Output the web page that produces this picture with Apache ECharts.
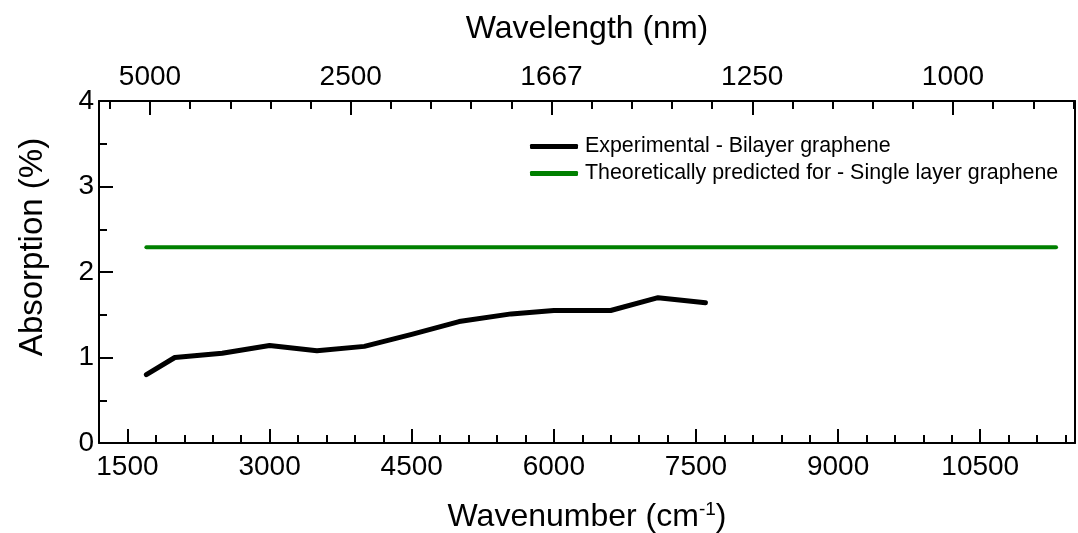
<!DOCTYPE html>
<html lang="en">
<head>
    <meta charset="UTF-8">
    <title>Absorption</title>
    <style>
        html, body { margin: 0; padding: 0; background: #fff; }
        #main { width: 1078px; height: 533px; }
    </style>
</head>
<body>
    <div id="main"></div>
    <script src="https://cdn.jsdelivr.net/npm/echarts@6/dist/echarts.min.js"></script>
    <script>
        // 实验数据 (双层石墨烯)
        var expWavenumber = [1700, 2000, 2500, 3000, 3500, 4000, 4500, 5000, 5550, 6000, 6600, 7100, 7600];
        var expAbsorption = [0.80, 1.00, 1.05, 1.14, 1.08, 1.13, 1.27, 1.42, 1.51, 1.55, 1.55, 1.70, 1.64];
        // 理论值 (单层石墨烯 ~2.3%)
        var theoWavenumber = [1700, 11300];
        var theoAbsorption = [2.29, 2.29];

        var topLabels = [5000, 2500, 1667, 1250, 1000];   // 10^7 / wavenumber
        var bottomTicks = [1500, 3000, 4500, 6000, 7500, 9000, 10500];
        var yTicks = [0, 1, 2, 3, 4];

        var font = 'Liberation Sans, Arial, sans-serif';

        // 像素布局
        var L = 99, R = 3, T = 101, B = 90;
        var plotW = 1078 - L - R;
        var xMin = 1200, xMax = 11500;
        var pxPerX = plotW / (xMax - xMin);
        // 顶部轴: 2000 -> x=150, 每2000单位约200.75px
        var topPx = 200.75 / 2000;
        var topMax = 2000 + (1078 - R - 150) / topPx;

        function pairs(xs, ys) {
            return xs.map(function (x, i) { return [x, ys[i]]; });
        }
        function makeGrid(left) {
            return { left: left, right: R, top: T, bottom: B, outerBoundsMode: 'none', containLabel: false };
        }

        var myChart = echarts.init(document.getElementById('main'));
        var hidden = { show: false };
        var noLine = { show: false, onZero: false };
        var option = {
            animation: false,
            textStyle: { fontFamily: font },
            grid: [
                makeGrid(L),                                        // 主图
                makeGrid(L + (bottomTicks[0] - xMin) * pxPerX),     // 底部主刻度
                makeGrid(150 - 400 * topPx),                        // 顶部次刻度
                makeGrid(150)                                       // 顶部主刻度
            ],
            legend: {
                orient: 'vertical',
                left: 525,
                top: 131,
                itemWidth: 48,
                itemHeight: 5,
                itemGap: 6,
                icon: 'roundRect',
                textStyle: { fontSize: 21.4, color: '#000', fontFamily: font, padding: [0, 0, 0, 2] },
                data: ['Experimental - Bilayer graphene', 'Theoretically predicted for - Single layer graphene']
            },
            graphic: [{
                type: 'text', x: 33, y: 247, rotation: Math.PI / 2,
                style: {
                    text: 'Absorption (%)', fontSize: 33, fontFamily: font, fill: '#000',
                    textAlign: 'center', textVerticalAlign: 'middle'
                }
            }],
            xAxis: [
                {   // 0: 底部次刻度
                    gridIndex: 0, type: 'value', position: 'bottom',
                    min: xMin, max: xMax, interval: 300,
                    axisLine: { show: true, onZero: false, lineStyle: { color: '#000', width: 2 } },
                    axisTick: { show: true, inside: true, length: 8, lineStyle: { color: '#000', width: 2 } },
                    axisLabel: hidden, splitLine: hidden,
                    name: '{m|Wavenumber (cm}{s|-1}{m|)}',
                    nameLocation: 'middle', nameGap: 57,
                    nameTextStyle: {
                        rich: {
                            m: { fontSize: 32, color: '#000', fontFamily: font, lineHeight: 34 },
                            s: { fontSize: 19, color: '#000', fontFamily: font, verticalAlign: 'top', lineHeight: 34, padding: [0, 0, 16, 0] }
                        }
                    }
                },
                {   // 1: 顶部边框 + 标题
                    gridIndex: 0, type: 'value', position: 'top',
                    min: xMin, max: xMax,
                    axisLine: { show: true, onZero: false, lineStyle: { color: '#000', width: 2 } },
                    axisTick: hidden, axisLabel: hidden, splitLine: hidden,
                    name: 'Wavelength (nm)', nameLocation: 'middle', nameGap: 56,
                    nameTextStyle: { fontSize: 32, color: '#000', fontFamily: font }
                },
                {   // 2: 底部主刻度与标签
                    gridIndex: 1, type: 'value', position: 'bottom',
                    min: bottomTicks[0], max: xMax, interval: 1500,
                    axisLine: noLine,
                    axisTick: { show: true, inside: true, length: 14, lineStyle: { color: '#000', width: 2 } },
                    axisLabel: {
                        show: true, margin: 10, fontSize: 28, color: '#000', fontFamily: font,
                        formatter: function (v) { return bottomTicks.indexOf(Math.round(v)) >= 0 ? Math.round(v) : ''; }
                    },
                    splitLine: hidden
                },
                {   // 3: 顶部次刻度
                    gridIndex: 2, type: 'value', position: 'top',
                    min: 1600, max: topMax, interval: 400,
                    axisLine: noLine,
                    axisTick: { show: true, inside: true, length: 8, lineStyle: { color: '#000', width: 2 } },
                    axisLabel: hidden, splitLine: hidden
                },
                {   // 4: 顶部主刻度与波长标签
                    gridIndex: 3, type: 'value', position: 'top',
                    min: 2000, max: topMax, interval: 2000,
                    axisLine: noLine,
                    axisTick: { show: true, inside: true, length: 14, lineStyle: { color: '#000', width: 2 } },
                    axisLabel: {
                        show: true, margin: 10, fontSize: 28, color: '#000', fontFamily: font,
                        formatter: function (v) {
                            var k = Math.round(v / 2000) - 1;
                            return Math.abs(v / 2000 - Math.round(v / 2000)) < 1e-6 && k < topLabels.length ? String(topLabels[k]) : '';
                        }
                    },
                    splitLine: hidden
                }
            ],
            yAxis: [
                {   // 0: 左侧次刻度 + 标签
                    gridIndex: 0, type: 'value', position: 'left',
                    min: 0, max: 4, interval: 0.5,
                    axisLine: { show: true, onZero: false, lineStyle: { color: '#000', width: 2 } },
                    axisTick: { show: true, inside: true, length: 8, lineStyle: { color: '#000', width: 2 } },
                    axisLabel: {
                        show: true, margin: 5, fontSize: 28, color: '#000', fontFamily: font,
                        formatter: function (v) { return yTicks.indexOf(v) >= 0 ? v : ''; }
                    },
                    splitLine: hidden
                },
                {   // 1: 左侧主刻度
                    gridIndex: 0, type: 'value', position: 'left',
                    min: 0, max: 4, interval: 1,
                    axisLine: noLine,
                    axisTick: { show: true, inside: true, length: 14, lineStyle: { color: '#000', width: 2 } },
                    axisLabel: hidden, splitLine: hidden
                },
                {   // 2: 右侧边框
                    gridIndex: 0, type: 'value', position: 'right',
                    min: 0, max: 4,
                    axisLine: { show: true, onZero: false, lineStyle: { color: '#000', width: 2 } },
                    axisTick: hidden, axisLabel: hidden, splitLine: hidden
                },
                { gridIndex: 1, type: 'value', min: 0, max: 4, show: false },
                { gridIndex: 2, type: 'value', min: 0, max: 4, show: false },
                { gridIndex: 3, type: 'value', min: 0, max: 4, show: false }
            ],
            series: [
                {
                    name: 'Experimental - Bilayer graphene',
                    type: 'line', xAxisIndex: 0, yAxisIndex: 0,
                    data: pairs(expWavenumber, expAbsorption),
                    showSymbol: false, symbol: 'none',
                    lineStyle: { color: '#000', width: 5, cap: 'round', join: 'round' },
                    itemStyle: { color: '#000' }
                },
                {
                    name: 'Theoretically predicted for - Single layer graphene',
                    type: 'line', xAxisIndex: 0, yAxisIndex: 0,
                    data: pairs(theoWavenumber, theoAbsorption),
                    showSymbol: false, symbol: 'none',
                    lineStyle: { color: '#008000', width: 4, cap: 'round' },
                    itemStyle: { color: '#008000' }
                }
            ]
        };
        myChart.setOption(option);
    </script>
</body>
</html>
